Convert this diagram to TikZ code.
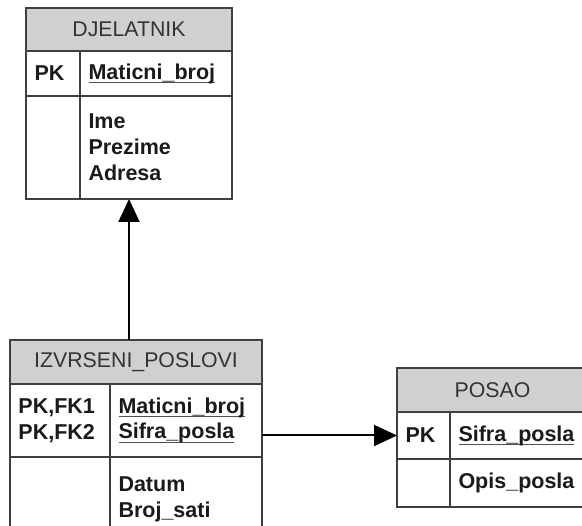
\documentclass[tikz,border=0pt]{standalone}
\usepackage{fontspec}
\setmainfont{Liberation Sans}
\usetikzlibrary{positioning,arrows.meta}
\tikzset{>={Triangle[length=23pt,width=21pt]}}

\definecolor{hdrgray}{HTML}{D0D0D0}
\definecolor{linegray}{HTML}{404040}
\definecolor{hdrtext}{HTML}{333333}
\definecolor{bodytext}{HTML}{1A1A1A}
\definecolor{ulgray}{HTML}{505050}

% key field: text with a gray rule under it
\newcommand{\keyfld}[1]{\leavevmode\setbox0\hbox{#1}\rlap{\color{ulgray}\rule[-4pt]{\wd0}{1.3pt}}\box0}

\begin{document}
\begin{tikzpicture}[x=1pt, y=-1pt,
  hdr/.style={draw=linegray, fill=hdrgray, line width=1.4pt, inner sep=0pt, outer sep=0pt,
    text=hdrtext, font=\fontsize{21.3}{26}\selectfont, anchor=north west},
  cell/.style={draw=linegray, line width=1.4pt, inner xsep=8.5pt, inner ysep=0pt, outer sep=0pt,
    align=left, text=bodytext, font=\bfseries\fontsize{21.5}{25.8}\selectfont}]
\clip (0,0) rectangle (582,526);
% DJELATNIK
\node[hdr, minimum width=206pt, minimum height=43pt] (djh) at (26,8) {DJELATNIK};
\node[cell, below right=0pt of djh.south west, text width=37pt, minimum height=45pt] (djk) {PK};
\node[cell, right=0pt of djk, text width=135pt, minimum height=45pt] (djf) {\keyfld{Maticni\_broj}};
\node[cell, below right=0pt of djk.south west, text width=37pt, minimum height=103pt] (djk2) {};
\node[cell, right=0pt of djk2, text width=135pt, minimum height=103pt] (djf2) {Ime\\Prezime\\Adresa};
% IZVRSENI_POSLOVI
\node[hdr, minimum width=252pt, minimum height=44pt] (izh) at (10,340) {IZVRSENI\_POSLOVI};
\node[cell, below right=0pt of izh.south west, text width=83pt, minimum height=73pt] (izk) {PK,FK1\\PK,FK2};
\node[cell, right=0pt of izk, text width=135pt, minimum height=73pt] (izf) {\keyfld{Maticni\_broj}\\\keyfld{Sifra\_posla}};
\node[cell, below right=0pt of izk.south west, text width=83pt, minimum height=85pt] (izk2) {};
\node[cell, right=0pt of izk2, text width=135pt, minimum height=85pt] (izf2) {Datum\\Broj\_sati};
% POSAO
\node[hdr, minimum width=191pt, minimum height=44pt] (poh) at (397,368) {POSAO};
\node[cell, below right=0pt of poh.south west, text width=36pt, minimum height=47pt] (pok) {PK};
\node[cell, right=0pt of pok, text width=121pt, minimum height=47pt] (pof) {\keyfld{Sifra\_posla}};
\node[cell, below right=0pt of pok.south west, text width=36pt, minimum height=48pt] (pok2) {};
\node[cell, right=0pt of pok2, text width=121pt, minimum height=48pt] (pof2) {Opis\_posla};
% veze
\draw[->, line width=2pt] (djh.south |- izh.north) -- (djh.south |- djf2.south);
\draw[->, line width=2pt] (izf.east |- pok.west) -- (pok.west);
\end{tikzpicture}
\end{document}
